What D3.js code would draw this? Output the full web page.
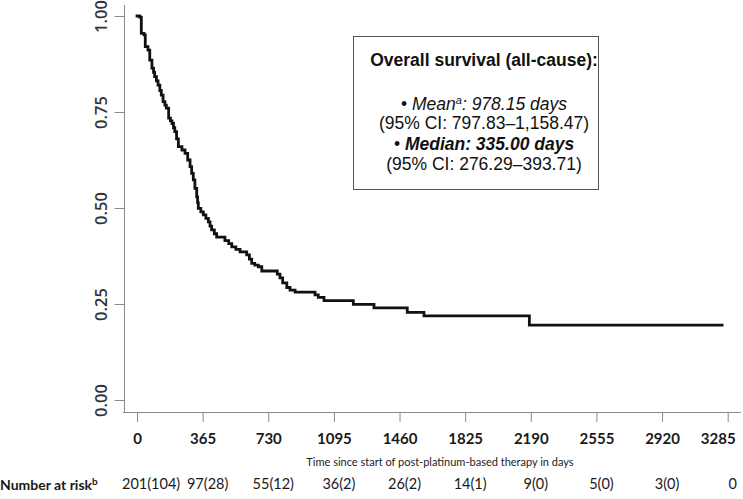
<!DOCTYPE html>
<html>
<head>
<meta charset="utf-8">
<script src="https://cdn.jsdelivr.net/npm/d3@7"></script>
<style>
  html, body { margin: 0; padding: 0; background: #fff; }
  svg { display: block; }
</style>
</head>
<body>
<svg id="chart" width="743" height="499"></svg>
<script>
// ---- data ----
const kmTimes = [0, 15, 24, 39, 46, 61, 71, 83, 92, 98, 108, 117, 127, 135, 145, 155, 163, 176, 186, 195, 203, 210, 220, 230, 250, 267, 282, 295, 304, 313, 322, 332, 337, 341, 355, 369, 383, 397, 406, 415, 430, 443, 489, 510, 527, 550, 573, 610, 625, 638, 655, 675, 694, 780, 795, 810, 833, 851, 879, 990, 1008, 1040, 1203, 1318, 1503, 1596, 2182, 3254];
const kmSurv  = [1.000, 0.997, 0.955, 0.951, 0.920, 0.911, 0.885, 0.864, 0.853, 0.842, 0.831, 0.820, 0.806, 0.794, 0.777, 0.768, 0.760, 0.734, 0.727, 0.720, 0.709, 0.699, 0.680, 0.660, 0.651, 0.642, 0.625, 0.608, 0.590, 0.573, 0.551, 0.529, 0.514, 0.499, 0.490, 0.482, 0.473, 0.464, 0.453, 0.443, 0.433, 0.424, 0.415, 0.407, 0.399, 0.392, 0.386, 0.378, 0.367, 0.356, 0.351, 0.347, 0.336, 0.328, 0.318, 0.305, 0.293, 0.286, 0.281, 0.274, 0.267, 0.259, 0.249, 0.240, 0.228, 0.219, 0.195, 0.195];
const xTicks = [0, 365, 730, 1095, 1460, 1825, 2190, 2555, 2920, 3285];
const yTicks = [0, 0.25, 0.5, 0.75, 1.0];
const yTickLabels = ["0.00", "0.25", "0.50", "0.75", "1.00"];
const atRisk = ["201(104)", "97(28)", "55(12)", "36(2)", "26(2)", "14(1)", "9(0)", "5(0)", "3(0)", "0"];
const xTitle = "Time since start of post-platinum-based therapy in days";

// ---- drawing ----
const svg = d3.select("#chart");
const x = d3.scaleLinear().domain([0, 3285]).range([137, 727.7]);
const y = d3.scaleLinear().domain([0, 1]).range([400, 16]);

const axisColor = "#8a8a8a";

// L-shaped frame
svg.append("line").attr("x1", 124.5).attr("x2", 124.5).attr("y1", 5).attr("y2", 412.5)
  .attr("stroke", axisColor).attr("stroke-width", 1);
svg.append("line").attr("x1", 123).attr("x2", 741).attr("y1", 412.5).attr("y2", 412.5)
  .attr("stroke", axisColor).attr("stroke-width", 1);

// y axis
const yAxis = d3.axisLeft(y).tickValues(yTicks).tickSize(10).tickPadding(0)
  .tickFormat((d, i) => yTickLabels[i]);
const gy = svg.append("g").attr("transform", "translate(124.5,0)").call(yAxis);
gy.select(".domain").remove();
gy.selectAll(".tick line").attr("stroke", axisColor);
gy.selectAll(".tick text")
  .attr("x", 0).attr("dy", 0)
  .attr("transform", "translate(-18,0) rotate(-90)")
  .attr("text-anchor", "middle")
  .style("font-family", "'Open Sans', sans-serif")
  .style("font-size", "16.5px")
  .style("font-weight", "600")
  .attr("fill", "#333");

// x axis
const xAxis = d3.axisBottom(x).tickValues(xTicks).tickSize(9.5).tickPadding(0)
  .tickFormat(d3.format("d"));
const gx = svg.append("g").attr("transform", "translate(0,412.5)").call(xAxis);
gx.select(".domain").remove();
gx.selectAll(".tick line").attr("stroke", axisColor);
gx.selectAll(".tick text")
  .attr("y", 31.5).attr("dy", 0)
  .attr("dx", (d, i) => i === xTicks.length - 1 ? -10 : 0)
  .style("font-family", "Lato, sans-serif")
  .style("font-size", "15px")
  .style("font-weight", "bold")
  .attr("fill", "#1a1a1a");

// x title
svg.append("text").attr("x", 440).attr("y", 466).attr("text-anchor", "middle")
  .style("font-family", "Lato, sans-serif").style("font-size", "11px")
  .attr("fill", "#222").text(xTitle);

// KM curve
const pts = kmTimes.map((t, i) => [t, kmSurv[i]]);
const line = d3.line().x(d => x(d[0])).y(d => y(d[1])).curve(d3.curveStepAfter);
svg.append("path").datum(pts).attr("d", line)
  .attr("fill", "none").attr("stroke", "#111").attr("stroke-width", 2.8)
  .attr("stroke-linejoin", "miter").attr("stroke-linecap", "square");

// number at risk
const nar = svg.append("text").attr("x", 0).attr("y", 490)
  .style("font-family", "Lato, sans-serif").style("font-size", "14px")
  .style("font-weight", "bold").attr("fill", "#1a1a1a");
nar.append("tspan").text("Number at risk");
nar.append("tspan").attr("dy", -5).style("font-size", "10px").text("b");

svg.append("g").selectAll("text").data(atRisk).join("text")
  .attr("x", (d, i) => i === 0 ? x(xTicks[i]) - 15 : x(xTicks[i]) + 5)
  .attr("y", 489)
  .attr("text-anchor", (d, i) => i === 0 ? "start" : "middle")
  .style("font-family", "Lato, sans-serif").style("font-size", "14.5px")
  .attr("fill", "#1a1a1a")
  .text(d => d);

// legend box
svg.append("rect").attr("x", 353.5).attr("y", 36.5).attr("width", 245).attr("height", 153)
  .attr("fill", "#fff").attr("stroke", "#555").attr("stroke-width", 1);

const lg = svg.append("g").style("font-family", "'Liberation Sans', Arial, sans-serif")
  .style("font-size", "17.5px").attr("fill", "#111");
const cx = 484;
lg.append("text").attr("x", cx).attr("y", 66).attr("text-anchor", "middle")
  .style("font-weight", "bold").text("Overall survival (all-cause):");

const l2 = lg.append("text").attr("x", cx).attr("y", 109.5).attr("text-anchor", "middle");
l2.append("tspan").text("• ");
l2.append("tspan").style("font-style", "italic").text("Mean");
l2.append("tspan").style("font-style", "italic").style("font-size", "11px").attr("dy", -6).text("a");
l2.append("tspan").style("font-style", "italic").attr("dy", 6).text(": 978.15 days");

lg.append("text").attr("x", cx).attr("y", 128.5).attr("text-anchor", "middle")
  .text("(95% CI: 797.83–1,158.47)");

const l4 = lg.append("text").attr("x", cx).attr("y", 150).attr("text-anchor", "middle");
l4.append("tspan").text("• ");
l4.append("tspan").style("font-style", "italic").style("font-weight", "bold").text("Median: 335.00 days");

lg.append("text").attr("x", cx).attr("y", 170).attr("text-anchor", "middle")
  .text("(95% CI: 276.29–393.71)");
</script>
</body>
</html>
